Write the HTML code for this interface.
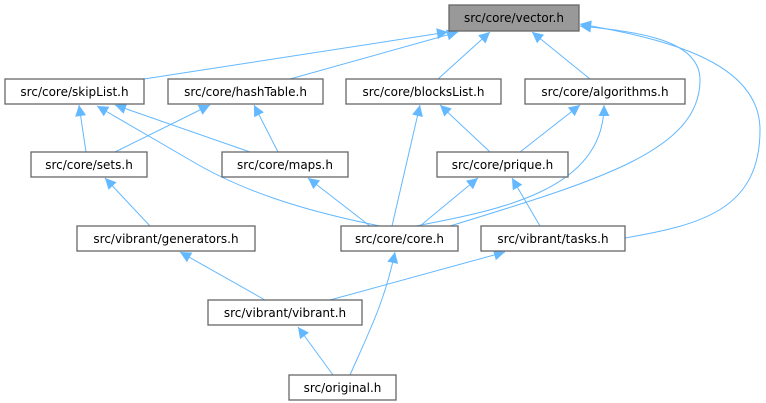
<!DOCTYPE html>
<html><head><meta charset="utf-8"><style>
html,body{margin:0;padding:0;background:#fff;width:766px;height:403px;overflow:hidden}
svg{display:block}
text{font-family:"DejaVu Sans","Liberation Sans",sans-serif;font-size:12px;fill:#000}
.n{fill:#fff;stroke:#666;stroke-width:1.3}
.e{fill:none;stroke:#63b8ff;stroke-width:1}
</style></head><body>
<svg width="766" height="403" viewBox="0 0 766 403">
<defs><marker id="a" viewBox="0 0 10 10" refX="10" refY="5" markerWidth="13" markerHeight="11" markerUnits="userSpaceOnUse" orient="auto"><path d="M0,0L10,5L0,10z" fill="#63b8ff"/></marker></defs>
<g class="e" marker-end="url(#a)">
<path d="M144,79L448,32"/>
<path d="M290,79L458,32"/>
<path d="M438,79L490,32"/>
<path d="M590,79L532,32"/>
<path d="M450,226C600,180 700,150 700,80C700,40 640,32 580,26"/>
<path d="M625,238C700,225 760,210 760,130C760,60 660,38 580,24"/>
<path d="M86,152L79,105"/>
<path d="M250,152L115,105"/>
<path d="M380,226C300,210 240,190 190,160L97,106"/>
<path d="M115,152L210,105"/>
<path d="M278,152L254,105"/>
<path d="M392,226L420,105"/>
<path d="M490,152L440,105"/>
<path d="M520,152L580,105"/>
<path d="M416,226C500,210 604,190 604,105"/>
<path d="M420,226L478,178"/>
<path d="M540,226L512,178"/>
<path d="M370,226L308,178"/>
<path d="M150,226L105,178"/>
<path d="M265,300L180,252"/>
<path d="M330,300L505,252"/>
<path d="M350,375C370,330 385,300 395,252"/>
<path d="M333,375L298,327"/>
</g>
<rect x="449" y="5" width="130" height="26" fill="#999" stroke="#666" stroke-width="1.3"/>
<text x="514" y="22" text-anchor="middle">src/core/vector.h</text>
<g>
<rect class="n" x="5" y="79" width="139" height="25"/><text x="74.5" y="96" text-anchor="middle">src/core/skipList.h</text>
<rect class="n" x="168" y="79" width="155" height="25"/><text x="245.5" y="96" text-anchor="middle">src/core/hashTable.h</text>
<rect class="n" x="346" y="79" width="155" height="25"/><text x="423.5" y="96" text-anchor="middle">src/core/blocksList.h</text>
<rect class="n" x="525" y="79" width="160" height="25"/><text x="605" y="96" text-anchor="middle">src/core/algorithms.h</text>
<rect class="n" x="31" y="152" width="116" height="25"/><text x="89" y="169" text-anchor="middle">src/core/sets.h</text>
<rect class="n" x="222" y="152" width="126" height="25"/><text x="285" y="169" text-anchor="middle">src/core/maps.h</text>
<rect class="n" x="437" y="152" width="131" height="25"/><text x="502.5" y="169" text-anchor="middle">src/core/prique.h</text>
<rect class="n" x="77" y="226" width="178" height="25"/><text x="166" y="243" text-anchor="middle">src/vibrant/generators.h</text>
<rect class="n" x="341" y="226" width="117" height="25"/><text x="399.5" y="243" text-anchor="middle">src/core/core.h</text>
<rect class="n" x="481" y="226" width="144" height="25"/><text x="553" y="243" text-anchor="middle">src/vibrant/tasks.h</text>
<rect class="n" x="208" y="300" width="154" height="25"/><text x="285" y="317" text-anchor="middle">src/vibrant/vibrant.h</text>
<rect class="n" x="289" y="375" width="107" height="25"/><text x="342.5" y="392" text-anchor="middle">src/original.h</text>
</g>
</svg>
</body></html>
